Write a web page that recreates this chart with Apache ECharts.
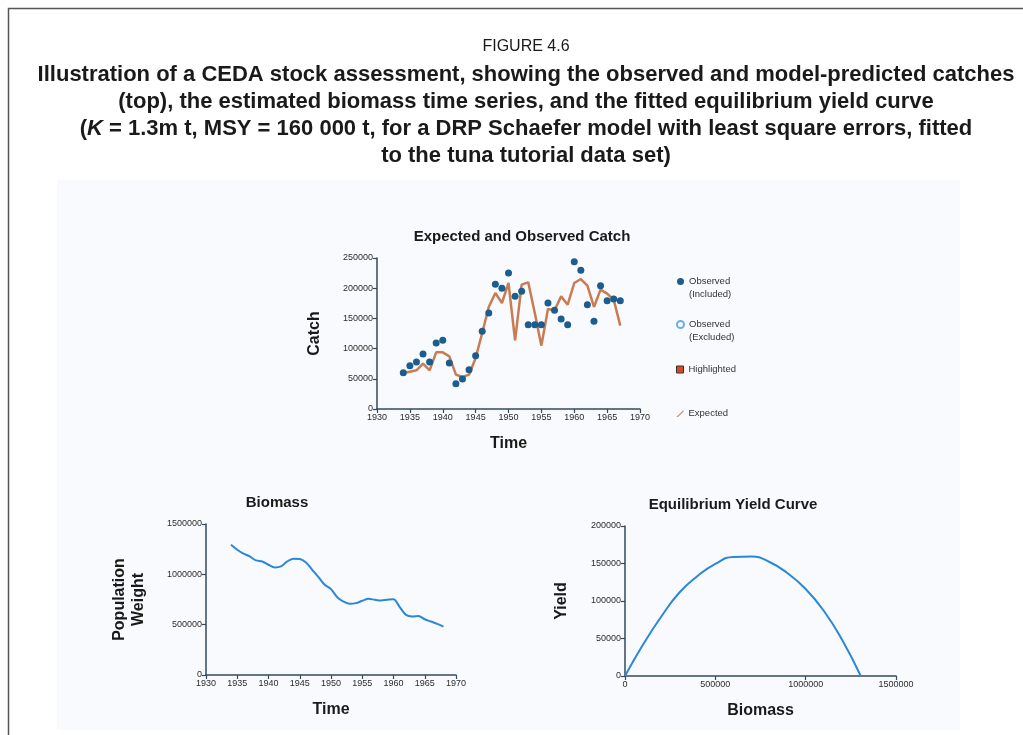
<!DOCTYPE html>
<html>
<head>
<meta charset="utf-8">
<title>CEDA stock assessment</title>
<script src="https://cdn.jsdelivr.net/npm/echarts@6/dist/echarts.min.js"></script>
<style>
  html, body { margin: 0; padding: 0; background: #fff; }
  #chart { width: 1023px; height: 735px; }
</style>
</head>
<body>
<div id="chart"></div>
<script>
// catch data (top panel)
var catchYears = [1934, 1935, 1936, 1937, 1938, 1939, 1940, 1941, 1942, 1943, 1944, 1945, 1946, 1947, 1948, 1949, 1950,
  1951, 1952, 1953, 1954, 1955, 1956, 1957, 1958, 1959, 1960, 1961, 1962, 1963, 1964, 1965, 1966, 1967]
var observedCatch = [60000, 71700, 77800, 91000, 77800, 109300, 113700, 76200, 41900, 49700, 65100, 88300, 128600,
  158900, 206400, 199800, 225200, 186500, 194800, 139600, 139600, 139600, 175500, 163400, 149000, 139600, 243900,
  229600, 172700, 145100, 204200, 179400, 182100, 179400]
var expectedCatch = [59600, 61800, 64000, 75000, 64000, 93800, 93800, 87200, 56800, 53000, 56800, 84400, 125800,
  168900, 192100, 175500, 208600, 113700, 205900, 209700, 158900, 104900, 165600, 163400, 186500, 172700, 208600,
  215200, 204200, 168900, 197600, 191000, 181000, 138000]

// biomass time series
var biomassYears = [1934, 1935, 1936, 1937, 1938, 1939, 1940, 1941, 1942, 1943, 1944, 1945, 1946, 1947, 1948, 1949,
  1950, 1951, 1952, 1953, 1954, 1955, 1956, 1957, 1958, 1959, 1960, 1961, 1962, 1963, 1964, 1965, 1966, 1967, 1968]
var biomass = [1294000, 1244000, 1205000, 1178000, 1138000, 1128000, 1095000, 1069000, 1079000, 1128000, 1155000,
  1152000, 1118000, 1045000, 972000, 896000, 853000, 773000, 730000, 707000, 714000, 737000, 757000, 747000, 740000,
  747000, 753000, 674000, 597000, 581000, 587000, 554000, 531000, 508000, 481000]

// equilibrium yield curve
var yieldBiomass = [0, 100000, 200000, 300000, 400000, 500000, 600000, 700000, 800000, 900000, 1000000, 1100000,
  1200000, 1305000]
var yieldValues = [0, 42000, 79000, 111000, 133000, 149500, 158800, 159300, 152000, 137000, 116000, 87000, 49000, 0]

var font = 'Liberation Sans, Arial, sans-serif'
var axisColor = '#34495e'

function axis(opt) {
  var base = {
    type: 'value',
    nameLocation: 'middle',
    nameTextStyle: { fontFamily: font, fontWeight: 'bold', fontSize: 16, color: '#1a1a1a' },
    axisLine: { show: true, onZero: false, lineStyle: { color: axisColor, width: 1.5 } },
    axisTick: { show: true, length: 4, lineStyle: { color: axisColor, width: 1.2 } },
    axisLabel: {
      fontFamily: font, fontSize: 9, color: '#2b2b2b', margin: 4,
      formatter: function(v) { return String(v) }
    },
    splitLine: { show: false }
  }
  return Object.assign(base, opt)
}

function pairs(xs, ys) {
  return xs.map(function(x, i) { return [x, ys[i]] })
}

function captionLine(text, y, bold) {
  return {
    text: text, left: 526, top: y, textAlign: 'center', textVerticalAlign: 'middle', padding: 0,
    textStyle: {
      fontFamily: font, fontWeight: bold ? 'bold' : 'normal', fontSize: bold ? 22 : 16, color: '#1a1a1a',
      rich: { i: { fontFamily: font, fontWeight: 'bold', fontStyle: 'italic', fontSize: 22, color: '#1a1a1a' } }
    }
  }
}

function chartTitle(text, x, y) {
  return {
    text: text, left: x, top: y, textAlign: 'center', textVerticalAlign: 'middle', padding: 0,
    textStyle: { fontFamily: font, fontWeight: 'bold', fontSize: 15, color: '#1a1a1a' }
  }
}

var chart = echarts.init(document.getElementById('chart'))
chart.setOption({
  animation: false,
  backgroundColor: '#fff',
  graphic: [
    {
      type: 'rect', silent: true, z: -10,
      shape: { x: 8.5, y: 8.5, width: 1100, height: 800 },
      style: { fill: '#fff', stroke: '#555', lineWidth: 1.5 }
    },
    {
      type: 'rect', silent: true, z: -9,
      shape: { x: 57, y: 180, width: 903, height: 550 },
      style: { fill: '#f9fafd' }
    }
  ],
  title: [
    captionLine('FIGURE 4.6', 47, false),
    captionLine('Illustration of a CEDA stock assessment, showing the observed and model-predicted catches', 75, true),
    captionLine('(top), the estimated biomass time series, and the fitted equilibrium yield curve', 102, true),
    captionLine('({i|K} = 1.3m t, MSY = 160 000 t, for a DRP Schaefer model with least square errors, fitted', 129, true),
    captionLine('to the tuna tutorial data set)', 156, true),
    chartTitle('Expected and Observed Catch', 522, 237),
    chartTitle('Biomass', 277, 503),
    chartTitle('Equilibrium Yield Curve', 733, 505)
  ],
  legend: [
    {
      // two-line entries: blank first line keeps the marker level with the first text line
      orient: 'vertical', left: 676, top: 262, padding: 0, itemGap: 4,
      itemWidth: 7, itemHeight: 7,
      formatter: function(name) { return '\n' + name.replace(' (', '\n(') },
      textStyle: { fontFamily: font, fontSize: 9.5, color: '#333', lineHeight: 13 },
      data: [
        { name: 'Observed (Included)', icon: 'circle', itemStyle: { color: '#1b5d8c', opacity: 1 } },
        { name: 'Observed (Excluded)', icon: 'emptyCircle',
          itemStyle: { color: '#6aaee6', borderColor: '#6aaee6', borderWidth: 1.3, opacity: 1 } }
      ]
    },
    {
      orient: 'vertical', left: 676, top: 363, padding: 0, itemGap: 31,
      itemWidth: 7, itemHeight: 7,
      textStyle: { fontFamily: font, fontSize: 9.5, color: '#333', lineHeight: 13 },
      data: [
        { name: 'Highlighted', icon: 'rect',
          itemStyle: { color: '#d9472b', borderColor: '#333', borderWidth: 1, opacity: 1 } },
        { name: 'Expected', icon: 'path://M0,10 L8,2 L10,0 L10,2 L2,10 Z',
          itemStyle: { color: '#c97b52', opacity: 1 } }
      ]
    }
  ],
  grid: [
    { left: 377, top: 258, width: 263, height: 151, outerBoundsMode: 'none' },
    { left: 206, top: 524, width: 250, height: 151, outerBoundsMode: 'none' },
    { left: 625, top: 526, width: 271, height: 150, outerBoundsMode: 'none' }
  ],
  xAxis: [
    axis({ gridIndex: 0, min: 1930, max: 1970, interval: 5, name: 'Time', nameGap: 27 }),
    axis({ gridIndex: 1, min: 1930, max: 1970, interval: 5, name: 'Time', nameGap: 27 }),
    axis({ gridIndex: 2, min: 0, max: 1500000, interval: 500000, name: 'Biomass', nameGap: 27 })
  ],
  yAxis: [
    axis({ gridIndex: 0, min: 0, max: 250000, interval: 50000, name: 'Catch', nameGap: 54 }),
    axis({ gridIndex: 1, min: 0, max: 1500000, interval: 500000, name: 'Population\nWeight', nameGap: 58,
      nameTextStyle: { fontFamily: font, fontWeight: 'bold', fontSize: 16, color: '#1a1a1a', lineHeight: 19 } }),
    axis({ gridIndex: 2, min: 0, max: 200000, interval: 50000, name: 'Yield', nameGap: 55 })
  ],
  series: [
    {
      name: 'Expected', type: 'line', xAxisIndex: 0, yAxisIndex: 0,
      data: pairs(catchYears, expectedCatch),
      showSymbol: false, z: 2,
      lineStyle: { color: '#c97b52', width: 2.5 },
      itemStyle: { color: '#c97b52' }
    },
    {
      name: 'Observed (Included)', type: 'scatter', xAxisIndex: 0, yAxisIndex: 0,
      data: pairs(catchYears, observedCatch),
      symbol: 'circle', symbolSize: 7, z: 3,
      itemStyle: { color: '#1b5d8c', opacity: 1 }
    },
    {
      name: 'Observed (Excluded)', type: 'scatter', xAxisIndex: 0, yAxisIndex: 0, data: [],
      symbol: 'emptyCircle', itemStyle: { color: '#6aaee6' }
    },
    {
      name: 'Highlighted', type: 'scatter', xAxisIndex: 0, yAxisIndex: 0, data: [],
      symbol: 'rect', itemStyle: { color: '#d9472b' }
    },
    {
      name: 'Biomass', type: 'line', xAxisIndex: 1, yAxisIndex: 1,
      data: pairs(biomassYears, biomass),
      showSymbol: false, smooth: 0.3,
      lineStyle: { color: '#2a88d6', width: 2 }
    },
    {
      name: 'Yield', type: 'line', xAxisIndex: 2, yAxisIndex: 2,
      data: pairs(yieldBiomass, yieldValues),
      showSymbol: false, smooth: 0.5,
      lineStyle: { color: '#2a88d6', width: 2 }
    }
  ]
})
</script>
</body>
</html>
